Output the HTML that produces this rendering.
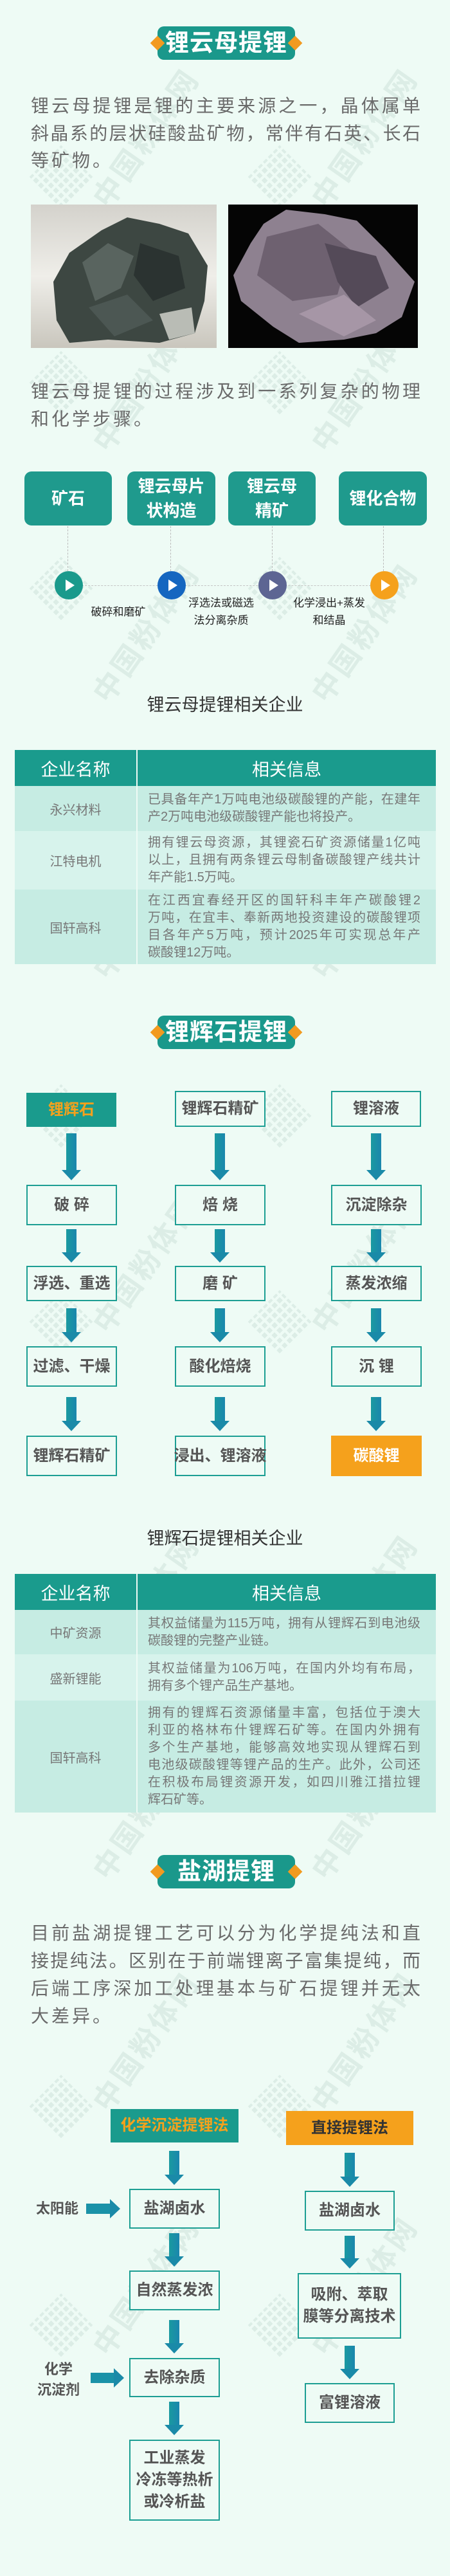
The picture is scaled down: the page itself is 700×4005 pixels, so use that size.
<!DOCTYPE html>
<html><head><meta charset="utf-8">
<style>
*{margin:0;padding:0;box-sizing:border-box}
body{width:700px;height:4005px;background:#eefbf5;position:relative;overflow:hidden;font-family:"Liberation Sans","Noto Sans CJK SC",sans-serif}
.a{position:absolute}
.wm{position:absolute;font-size:46px;font-weight:bold;color:rgba(150,185,172,0.2);transform:rotate(-55deg);white-space:nowrap;letter-spacing:4px}
.wl{position:absolute;width:70px;height:70px;transform:rotate(-45deg);background:repeating-linear-gradient(90deg,rgba(150,185,172,0.2) 0 7px,transparent 7px 11px),transparent;-webkit-mask:repeating-linear-gradient(0deg,#000 0 7px,transparent 7px 11px)}
.badge{position:absolute;left:245px;width:214px;height:52px;background:#1a988b;border-radius:10px;color:#fff;font-weight:bold;font-size:37px;text-align:center;line-height:52px;letter-spacing:1px}
.dia{position:absolute;top:50%;width:16px;height:16px;margin-top:-8px;background:#f29a1f;transform:rotate(45deg) }
.p{position:absolute;left:48px;width:606px;color:#6a6a6a;font-size:28px;white-space:nowrap;height:42px;line-height:42px}
.pj{text-align:justify;text-align-last:justify}
.b1{position:absolute;top:733px;height:84px;background:#1f9a8d;border-radius:11px;color:#fff;font-weight:bold;font-size:26px;display:flex;align-items:center;justify-content:center;text-align:center;line-height:38px}
.vd{position:absolute;top:818px;height:70px;border-left:1.5px dashed #bbb}
.c{position:absolute;top:888px;width:44px;height:44px;border-radius:50%}
.c:after{content:"";position:absolute;left:17px;top:13px;border-left:14px solid #fff;border-top:9px solid transparent;border-bottom:9px solid transparent}
.lb{position:absolute;color:#222;font-size:17px;text-align:center;line-height:27px;white-space:nowrap}
.tt{position:absolute;left:0;width:700px;text-align:center;font-size:27px;color:#333}
table{position:absolute;left:23px;width:655px;border-collapse:collapse}
th{background:#1a9b8d;color:#fff;font-weight:normal;font-size:27px;height:56px}
th:first-child,td:first-child{width:190px;border-right:2px solid #eefbf5}
td{font-size:20px;color:#777;vertical-align:middle}
td:first-child{text-align:center}
td:last-child{padding:0 24px 0 16px;line-height:27px}
tr.o td{background:#c6ece3}
tr.e td{background:#d7f3ec}
.j{text-align:justify;text-align-last:justify;white-space:nowrap}
.bx{position:absolute;border:2.5px solid #1c9e93;background:#eefbf5;color:#555;font-weight:bold;font-size:24px;display:flex;align-items:center;justify-content:center;text-align:center;line-height:34px;white-space:nowrap}
.ar{position:absolute;width:30px}
.ar:before{content:"";position:absolute;left:7px;top:0;width:16px;bottom:14px;background:linear-gradient(90deg,#1a9aa0,#1a86ad)}
.ar:after{content:"";position:absolute;left:0;bottom:0;border-top:16px solid #1a8aa8;border-left:15px solid transparent;border-right:15px solid transparent}
.ah{position:absolute;height:30px}
.ah:before{content:"";position:absolute;left:0;top:7px;height:16px;right:14px;background:#1a92a8}
.ah:after{content:"";position:absolute;right:0;top:0;border-left:16px solid #1a8aa8;border-top:15px solid transparent;border-bottom:15px solid transparent}
.sd{position:absolute;color:#555;font-weight:bold;font-size:22px;text-align:center;line-height:32px}
</style></head><body>

<div class="wm" style="left:100px;top:180px">中国粉体网</div><div class="wm" style="left:440px;top:180px">中国粉体网</div>
<div class="wm" style="left:100px;top:560px">中国粉体网</div><div class="wm" style="left:440px;top:560px">中国粉体网</div>
<div class="wm" style="left:100px;top:950px">中国粉体网</div><div class="wm" style="left:440px;top:950px">中国粉体网</div>
<div class="wm" style="left:100px;top:1380px">中国粉体网</div><div class="wm" style="left:440px;top:1380px">中国粉体网</div>
<div class="wm" style="left:100px;top:1930px">中国粉体网</div><div class="wm" style="left:440px;top:1930px">中国粉体网</div>
<div class="wm" style="left:100px;top:2460px">中国粉体网</div><div class="wm" style="left:440px;top:2460px">中国粉体网</div>
<div class="wm" style="left:100px;top:2780px">中国粉体网</div><div class="wm" style="left:440px;top:2780px">中国粉体网</div>
<div class="wm" style="left:100px;top:3140px">中国粉体网</div><div class="wm" style="left:440px;top:3140px">中国粉体网</div>
<div class="wm" style="left:100px;top:3520px">中国粉体网</div><div class="wm" style="left:440px;top:3520px">中国粉体网</div>
<div class="wl" style="left:60px;top:240px"></div><div class="wl" style="left:400px;top:240px"></div>
<div class="wl" style="left:60px;top:560px"></div><div class="wl" style="left:400px;top:560px"></div>
<div class="wl" style="left:60px;top:880px"></div><div class="wl" style="left:400px;top:880px"></div>
<div class="wl" style="left:60px;top:1700px"></div><div class="wl" style="left:400px;top:1700px"></div>
<div class="wl" style="left:60px;top:2020px"></div><div class="wl" style="left:400px;top:2020px"></div>
<div class="wl" style="left:60px;top:2580px"></div><div class="wl" style="left:400px;top:2580px"></div>
<div class="wl" style="left:60px;top:3240px"></div><div class="wl" style="left:400px;top:3240px"></div>
<div class="wl" style="left:60px;top:3580px"></div><div class="wl" style="left:400px;top:3580px"></div>

<div class="badge" style="top:41px"><div class="dia" style="left:-8px"></div>锂云母提锂<div class="dia" style="right:-8px"></div></div>
<div class="p pj" style="top:144px">锂云母提锂是锂的主要来源之一，晶体属单</div>
<div class="p pj" style="top:187px">斜晶系的层状硅酸盐矿物，常伴有石英、长石</div>
<div class="p" style="top:229px;letter-spacing:4px">等矿物。</div>

<svg class="a" style="left:48px;top:318px" width="289" height="223">
<defs><linearGradient id="g1" x1="0" y1="0" x2="0" y2="1"><stop offset="0" stop-color="#d4d2cc"/><stop offset="0.5" stop-color="#efeee9"/><stop offset="1" stop-color="#c9c6bd"/></linearGradient></defs>
<rect width="289" height="223" fill="url(#g1)"/>
<polygon points="60,75 110,40 150,20 200,30 245,45 275,95 270,150 255,200 200,215 120,210 60,215 40,180 35,120" fill="#3d4742"/>
<polygon points="80,90 120,60 160,80 140,130 100,150" fill="#59645f"/>
<polygon points="170,60 230,80 240,130 190,150 160,110" fill="#2b3331"/>
<polygon points="90,160 150,140 190,180 130,205" fill="#4c5753"/>
<polygon points="200,170 250,160 255,200 215,210" fill="#b9bcb5"/>
</svg>
<svg class="a" style="left:355px;top:318px" width="295" height="223">
<rect width="295" height="223" fill="#050505"/>
<polygon points="55,30 90,8 150,15 200,25 245,70 290,120 270,175 230,200 180,210 110,215 70,190 20,150 8,110 35,60" fill="#8e8190"/>
<polygon points="60,50 140,30 190,70 170,140 100,150 45,110" fill="#6e6170"/>
<polygon points="150,60 230,80 250,130 200,160 170,120" fill="#544a58"/>
<polygon points="110,170 180,140 230,180 180,205" fill="#a696a6"/>
</svg>

<div class="p pj" style="top:588px">锂云母提锂的过程涉及到一系列复杂的物理</div>
<div class="p" style="top:631px;letter-spacing:4px">和化学步骤。</div>

<div class="b1" style="left:38px;width:136px">矿石</div>
<div class="b1" style="left:198px;width:137px">锂云母片<br>状构造</div>
<div class="b1" style="left:355px;width:136px">锂云母<br>精矿</div>
<div class="b1" style="left:527px;width:137px">锂化合物</div>
<div class="vd" style="left:105px"></div><div class="vd" style="left:265px"></div><div class="vd" style="left:423px"></div><div class="vd" style="left:596px"></div>
<div class="a" style="left:107px;top:910px;width:490px;border-top:1.5px dashed #c4c4c4"></div>
<div class="c" style="left:85px;background:#1a9a8c"></div>
<div class="c" style="left:245px;background:#1566c0"></div>
<div class="c" style="left:402px;background:#5d6593"></div>
<div class="c" style="left:576px;background:#f5a11c"></div>
<div class="lb" style="left:134px;top:938px;width:100px">破碎和磨矿</div>
<div class="lb" style="left:284px;top:924px;width:120px">浮选法或磁选<br>法分离杂质</div>
<div class="lb" style="left:447px;top:924px;width:130px">化学浸出+蒸发<br>和结晶</div>

<div class="tt" style="top:1074px">锂云母提锂相关企业</div>
<table style="top:1166px">
<tr><th>企业名称</th><th>相关信息</th></tr>
<tr class="o" style="height:70px"><td>永兴材料</td><td><div class="j">已具备年产1万吨电池级碳酸锂的产能，在建年</div><div>产2万吨电池级碳酸锂产能也将投产。</div></td></tr>
<tr class="e" style="height:91px"><td>江特电机</td><td><div class="j">拥有锂云母资源，其锂瓷石矿资源储量1亿吨</div><div class="j">以上，且拥有两条锂云母制备碳酸锂产线共计</div><div>年产能1.5万吨。</div></td></tr>
<tr class="o" style="height:116px"><td>国轩高科</td><td><div class="j">在江西宜春经开区的国轩科丰年产碳酸锂2</div><div class="j">万吨，在宜丰、奉新两地投资建设的碳酸锂项</div><div class="j">目各年产5万吨，预计2025年可实现总年产</div><div>碳酸锂12万吨。</div></td></tr>
</table>

<div class="badge" style="top:1579px"><div class="dia" style="left:-8px"></div>锂辉石提锂<div class="dia" style="right:-8px"></div></div>

<div class="bx" style="left:41px;top:1699px;width:140px;height:53px;background:#1a9b8d;border-color:#1a9b8d;color:#f5a11c">锂辉石</div>
<div class="bx" style="left:272px;top:1696px;width:141px;height:56px">锂辉石精矿</div>
<div class="bx" style="left:515px;top:1696px;width:140px;height:56px">锂溶液</div>

<div class="ar" style="left:96px;top:1762px;height:73px"></div>
<div class="ar" style="left:327px;top:1762px;height:73px"></div>
<div class="ar" style="left:570px;top:1762px;height:73px"></div>
<div class="bx" style="left:41px;top:1842px;width:141px;height:63px">破 碎</div>
<div class="bx" style="left:272px;top:1842px;width:141px;height:63px">焙 烧</div>
<div class="bx" style="left:515px;top:1842px;width:141px;height:63px">沉淀除杂</div>

<div class="ar" style="left:96px;top:1911px;height:52px"></div>
<div class="ar" style="left:327px;top:1911px;height:52px"></div>
<div class="ar" style="left:570px;top:1911px;height:52px"></div>
<div class="bx" style="left:41px;top:1968px;width:141px;height:55px">浮选、重选</div>
<div class="bx" style="left:272px;top:1968px;width:141px;height:55px">磨 矿</div>
<div class="bx" style="left:515px;top:1968px;width:141px;height:55px">蒸发浓缩</div>

<div class="ar" style="left:96px;top:2034px;height:53px"></div>
<div class="ar" style="left:327px;top:2034px;height:53px"></div>
<div class="ar" style="left:570px;top:2034px;height:53px"></div>
<div class="bx" style="left:41px;top:2093px;width:141px;height:63px">过滤、干燥</div>
<div class="bx" style="left:272px;top:2093px;width:141px;height:63px">酸化焙烧</div>
<div class="bx" style="left:515px;top:2093px;width:141px;height:63px">沉 锂</div>

<div class="ar" style="left:96px;top:2172px;height:53px"></div>
<div class="ar" style="left:327px;top:2172px;height:53px"></div>
<div class="ar" style="left:570px;top:2172px;height:53px"></div>
<div class="bx" style="left:41px;top:2232px;width:141px;height:63px">锂辉石精矿</div>
<div class="bx" style="left:272px;top:2232px;width:141px;height:63px">浸出、锂溶液</div>
<div class="bx" style="left:515px;top:2232px;width:141px;height:63px;background:#f5a11c;border-color:#f5a11c;color:#fff">碳酸锂</div>

<div class="tt" style="top:2370px">锂辉石提锂相关企业</div>
<table style="top:2447px">
<tr><th>企业名称</th><th>相关信息</th></tr>
<tr class="o" style="height:69px"><td>中矿资源</td><td><div class="j">其权益储量为115万吨，拥有从锂辉石到电池级</div><div>碳酸锂的完整产业链。</div></td></tr>
<tr class="e" style="height:72px"><td>盛新锂能</td><td><div class="j">其权益储量为106万吨，在国内外均有布局，</div><div>拥有多个锂产品生产基地。</div></td></tr>
<tr class="o" style="height:174px"><td>国轩高科</td><td><div class="j">拥有的锂辉石资源储量丰富，包括位于澳大</div><div class="j">利亚的格林布什锂辉石矿等。在国内外拥有</div><div class="j">多个生产基地，能够高效地实现从锂辉石到</div><div class="j">电池级碳酸锂等锂产品的生产。此外，公司还</div><div class="j">在积极布局锂资源开发，如四川雅江措拉锂</div><div>辉石矿等。</div></td></tr>
</table>

<div class="badge" style="top:2884px"><div class="dia" style="left:-8px"></div>盐湖提锂<div class="dia" style="right:-8px"></div></div>
<div class="p pj" style="top:2985px">目前盐湖提锂工艺可以分为化学提纯法和直</div>
<div class="p pj" style="top:3028px">接提纯法。区别在于前端锂离子富集提纯，而</div>
<div class="p pj" style="top:3071px">后端工序深加工处理基本与矿石提锂并无太</div>
<div class="p" style="top:3114px;letter-spacing:4px">大差异。</div>

<div class="bx" style="left:172px;top:3279px;width:199px;height:52px;background:#1a9b8d;border-color:#1a9b8d;color:#f5a11c">化学沉淀提锂法</div>
<div class="bx" style="left:445px;top:3282px;width:198px;height:53px;background:#f5a11c;border-color:#f5a11c;color:#333">直接提锂法</div>

<div class="ar" style="left:256px;top:3344px;height:53px"></div>
<div class="bx" style="left:201px;top:3403px;width:141px;height:62px">盐湖卤水</div>
<div class="ar" style="left:256px;top:3472px;height:52px"></div>
<div class="bx" style="left:201px;top:3530px;width:141px;height:62px">自然蒸发浓</div>
<div class="ar" style="left:256px;top:3607px;height:52px"></div>
<div class="bx" style="left:201px;top:3666px;width:141px;height:61px">去除杂质</div>
<div class="ar" style="left:256px;top:3734px;height:52px"></div>
<div class="bx" style="left:201px;top:3793px;width:141px;height:126px">工业蒸发<br>冷冻等热析<br>或冷析盐</div>

<div class="ar" style="left:529px;top:3347px;height:53px"></div>
<div class="bx" style="left:474px;top:3406px;width:140px;height:62px">盐湖卤水</div>
<div class="ar" style="left:529px;top:3476px;height:51px"></div>
<div class="bx" style="left:463px;top:3534px;width:161px;height:102px">吸附、萃取<br>膜等分离技术</div>
<div class="ar" style="left:529px;top:3647px;height:52px"></div>
<div class="bx" style="left:474px;top:3705px;width:140px;height:62px">富锂溶液</div>

<div class="sd" style="left:50px;top:3418px;width:78px">太阳能</div>
<div class="ah" style="left:134px;top:3419px;width:53px"></div>
<div class="sd" style="left:52px;top:3668px;width:78px">化学<br>沉淀剂</div>
<div class="ah" style="left:141px;top:3682px;width:52px"></div>

</body></html>
